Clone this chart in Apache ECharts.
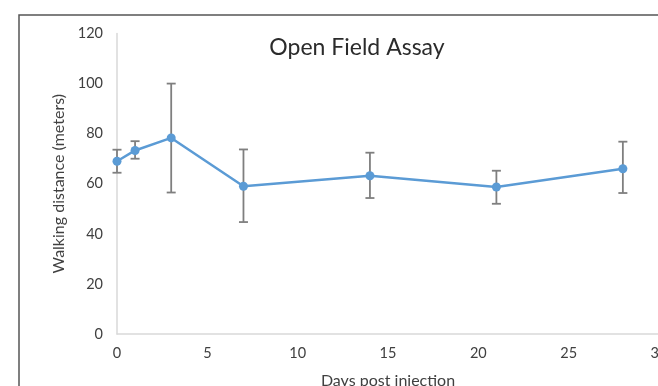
<!DOCTYPE html>
<html>
<head>
<meta charset="utf-8">
<script src="https://cdn.jsdelivr.net/npm/echarts@6/dist/echarts.min.js"></script>
<style>
  html, body { margin: 0; padding: 0; background: #fff; }
  #chart { width: 658px; height: 386px; }
</style>
</head>
<body>
<div id="chart"></div>
<script>
// days post injection and mean walking distance (meters)
var days = [0, 1, 3, 7, 14, 21, 28];
var distance = [69, 73.3, 78.3, 59, 63.2, 58.7, 66];
var errLow = [64.4, 70, 56.5, 44.7, 54.3, 52, 56.3];
var errHigh = [73.6, 77, 100, 73.7, 72.4, 65.2, 76.8];
var yTicks = [0, 20, 40, 60, 80, 100, 120];
var xTicks = [0, 5, 10, 15, 20, 25, 30];

var myChart = echarts.init(document.getElementById('chart'));

var lineData = days.map(function (d, i) { return [d, distance[i]]; });
var barData = days.map(function (d, i) { return [d, errLow[i], errHigh[i]]; });

var nameFont = { fontFamily: 'Lato', fontSize: 16, color: '#404040' };

option = {
    animation: false,
    title: {
        text: 'Open Field Assay',
        left: 352,
        top: 31,
        textAlign: 'center',
        textStyle: { fontFamily: 'Lato', fontSize: 23, fontWeight: 'normal', color: '#2b2b2b' }
    },
    graphic: [{
        type: 'rect',
        shape: { x: 19, y: 15, width: 700, height: 420 },
        style: { fill: null, stroke: '#555', lineWidth: 1.5 },
        silent: true
    }],
    grid: {
        left: 117,
        top: 33.5,
        width: 542,
        bottom: 52,
        outerBoundsMode: 'none',
        containLabel: false
    },
    xAxis: {
        type: 'value',
        min: xTicks[0],
        max: xTicks[xTicks.length - 1],
        interval: 5,
        name: 'Days post injection',
        nameLocation: 'middle',
        nameGap: 39,
        nameTextStyle: nameFont,
        splitLine: { show: false },
        axisTick: { show: false },
        axisLine: { lineStyle: { color: '#d9d9d9', width: 1.5 } },
        axisLabel: { margin: 12, fontFamily: 'Lato', fontSize: 14.5, color: '#404040' }
    },
    yAxis: {
        type: 'value',
        min: yTicks[0],
        max: yTicks[yTicks.length - 1],
        interval: 20,
        name: 'Walking distance (meters)',
        nameLocation: 'middle',
        nameGap: 44,
        nameTextStyle: nameFont,
        splitLine: { show: false },
        axisTick: { show: false },
        axisLine: { show: true, lineStyle: { color: '#d9d9d9', width: 1.5 } },
        axisLabel: { margin: 14, fontFamily: 'Lato', fontSize: 14.5, color: '#404040' }
    },
    series: [
        {
            name: 'error',
            type: 'custom',
            z: 1,
            renderItem: function (params, api) {
                var x = api.value(0);
                var lo = api.coord([x, api.value(1)]);
                var hi = api.coord([x, api.value(2)]);
                var w = 4.5;
                var st = { stroke: '#7f7f7f', lineWidth: 1.8 };
                return {
                    type: 'group',
                    children: [
                        { type: 'line', shape: { x1: lo[0], y1: lo[1], x2: hi[0], y2: hi[1] }, style: st },
                        { type: 'line', shape: { x1: lo[0] - w, y1: lo[1], x2: lo[0] + w, y2: lo[1] }, style: st },
                        { type: 'line', shape: { x1: hi[0] - w, y1: hi[1], x2: hi[0] + w, y2: hi[1] }, style: st }
                    ]
                };
            },
            encode: { x: 0, y: [1, 2] },
            data: barData
        },
        {
            name: 'distance',
            type: 'line',
            z: 2,
            data: lineData,
            symbol: 'circle',
            symbolSize: 9,
            itemStyle: { color: '#5b9bd5' },
            lineStyle: { color: '#5b9bd5', width: 2.5 }
        }
    ]
};

myChart.setOption(option);
</script>
</body>
</html>
